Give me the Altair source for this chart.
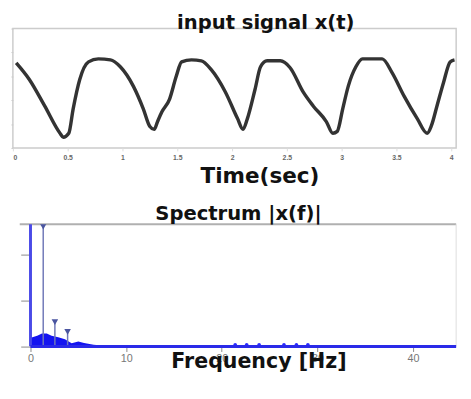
import altair as alt
import pandas as pd

# ---- top panel: input signal ----
time_s = [0.03, 0.15, 0.29, 0.43, 0.46, 0.51, 0.55, 0.61, 0.69, 0.78, 0.89, 0.98,
          1.10, 1.19, 1.25, 1.29, 1.32, 1.36, 1.43, 1.49, 1.54, 1.63, 1.72, 1.81,
          1.94, 2.05, 2.10, 2.14, 2.21, 2.26, 2.32, 2.44, 2.53, 2.65, 2.74, 2.86,
          2.92, 2.96, 3.01, 3.06, 3.13, 3.19, 3.37, 3.46, 3.57, 3.69, 3.78, 3.82,
          3.87, 3.93, 3.99, 4.03]
signal = [0.713, 0.574, 0.352, 0.123, 0.090, 0.123, 0.328, 0.574, 0.721, 0.746, 0.738, 0.680,
          0.516, 0.328, 0.180, 0.156, 0.221, 0.303, 0.410, 0.598, 0.721, 0.738, 0.730, 0.656,
          0.467, 0.246, 0.156, 0.246, 0.492, 0.680, 0.730, 0.730, 0.672, 0.467, 0.352, 0.221,
          0.123, 0.139, 0.328, 0.516, 0.680, 0.746, 0.746, 0.631, 0.434, 0.246, 0.123, 0.189,
          0.352, 0.549, 0.721, 0.738]
time_ticks = [0, 0.5, 1, 1.5, 2, 2.5, 3, 3.5, 4]

# ---- bottom panel: spectrum ----
peak_freq = [0.0, 1.33, 2.55, 3.88]
peak_amp = [6.0, 5.2, 1.06, 0.64]
noise_freq = [0.0, 0.2, 0.7, 1.2, 1.7, 2.2, 2.9, 3.6, 4.3, 5.0, 5.6, 6.6, 8.0, 9.0, 44.5]
noise_amp = [0.37, 0.40, 0.47, 0.57, 0.57, 0.47, 0.40, 0.32, 0.14, 0.22, 0.16, 0.08, 0.03, 0.0, 0.0]
blip_freq = [21.4, 22.6, 23.9, 26.5, 27.8, 29.0]
blip_amp = [0.08, 0.08, 0.08, 0.08, 0.08, 0.08]
freq_ticks = [0, 10, 20, 30, 40]
amp_ticks = [0, 1, 2, 3, 4, 5]
freq_span = [0.0, 44.5]

FONT = "DejaVu Sans"

sig_df = pd.DataFrame({"t": time_s, "x": signal})
top = alt.Chart(sig_df).mark_line(color="#333333", strokeWidth=3.5, interpolate="monotone").encode(
    x=alt.X("t:Q", scale=alt.Scale(domain=[0, 4.045], nice=False, zero=False),
            axis=alt.Axis(values=time_ticks, format="~g", title="Time(sec)", labelFontSize=7,
                          labelColor="#666666", labelFontWeight="bold", tickSize=3, tickColor="#dddddd",
                          domain=False, grid=False, labelPadding=3, labelOverlap=False,
                          titleFontSize=22, titleFont=FONT, titleFontWeight="bold", titleColor="#111111",
                          titleX=252, titlePadding=5)),
    y=alt.Y("x:Q", scale=alt.Scale(domain=[0, 1], nice=False),
            axis=alt.Axis(labels=False, title=None, tickSize=2, tickColor="#cccccc", domain=False,
                          grid=False, tickCount=4)),
).properties(
    width=453, height=122,
    title=alt.TitleParams("input signal x(t)", fontSize=20, font=FONT, fontWeight="bold",
                          color="#111111", dx=32, offset=-5),
)

noise_df = pd.DataFrame({"f": noise_freq, "a": noise_amp})
peak_df = pd.DataFrame({"f": peak_freq, "a": peak_amp, "z": [0.0] * len(peak_freq),
                        "kind": ["dc", "h", "h", "h"]})
blip_df = pd.DataFrame({"f": blip_freq, "a": blip_amp})
base_df = pd.DataFrame({"f0": [freq_span[0]], "f1": [freq_span[1]], "z": [0.0], "top": [5.3]})

# f = 0 sits 18 px right of the panel's left edge, as in the reference
xsc = alt.Scale(domain=[-1.84, 44.5], nice=False, zero=False)
ysc = alt.Scale(domain=[0, 5.3], nice=False)

xax = alt.Axis(values=freq_ticks, title="Frequency [Hz]", labelFontSize=11, labelColor="#777777",
               tickSize=5, tickColor="#888888", domain=False, grid=False, labelPadding=1,
               labelOverlap=False,
               titleFontSize=21, titleFont=FONT, titleFontWeight="bold", titleColor="#111111",
               titleX=251, titlePadding=-13)
yax = alt.Axis(values=amp_ticks, labels=False, offset=-18, tickSize=10, tickColor="#888888",
               domainColor="#999999", grid=False, title=None)

area = alt.Chart(noise_df).mark_area(color="#1414f0", clip=True).encode(
    x=alt.X("f:Q", scale=xsc, axis=xax), y=alt.Y("a:Q", scale=ysc, axis=yax))
stems = alt.Chart(peak_df).mark_rule(clip=True).encode(
    x="f:Q", y="a:Q", y2="z:Q",
    color=alt.Color("kind:N", scale=alt.Scale(domain=["dc", "h"], range=["#4a4ae8", "#7078b8"]), legend=None),
    strokeWidth=alt.StrokeWidth("kind:N", scale=alt.Scale(domain=["dc", "h"], range=[3, 1.5]), legend=None))
marks = alt.Chart(peak_df).mark_point(shape="triangle-down", filled=True, size=45, color="#4a55a0",
                                      opacity=1, clip=True).encode(x="f:Q", y="a:Q")
blips = alt.Chart(blip_df).mark_point(filled=True, size=14, color="#2a2aff", opacity=1).encode(
    x="f:Q", y="a:Q")
base = alt.Chart(base_df).mark_rule(color="#2a2ae8", strokeWidth=3).encode(x="f0:Q", x2="f1", y="z:Q")
frame_top = alt.Chart(base_df).mark_rule(color="#b0b0b0", strokeWidth=2).encode(
    x=alt.value(7), x2=alt.value(453), y="top:Q")
frame_right = alt.Chart(base_df).mark_rule(color="#dddddd", strokeWidth=1).encode(
    x="f1:Q", y="z:Q", y2="top:Q")

bottom = alt.layer(frame_top, frame_right, area, stems, marks, blips, base).properties(
    width=453, height=125,
    view=alt.ViewBackground(stroke=None),
    title=alt.TitleParams("Spectrum |x(f)|", fontSize=20, font=FONT, fontWeight="bold",
                          color="#111111", dx=4, offset=-1),
)

chart = alt.vconcat(top, bottom, spacing=18).configure(
    padding={"left": 0, "top": 0, "right": 0, "bottom": 0}
).configure_view(stroke="#cccccc", strokeWidth=1.5)

chart.save("out.html", embed_options={"renderer": "svg", "actions": False})
